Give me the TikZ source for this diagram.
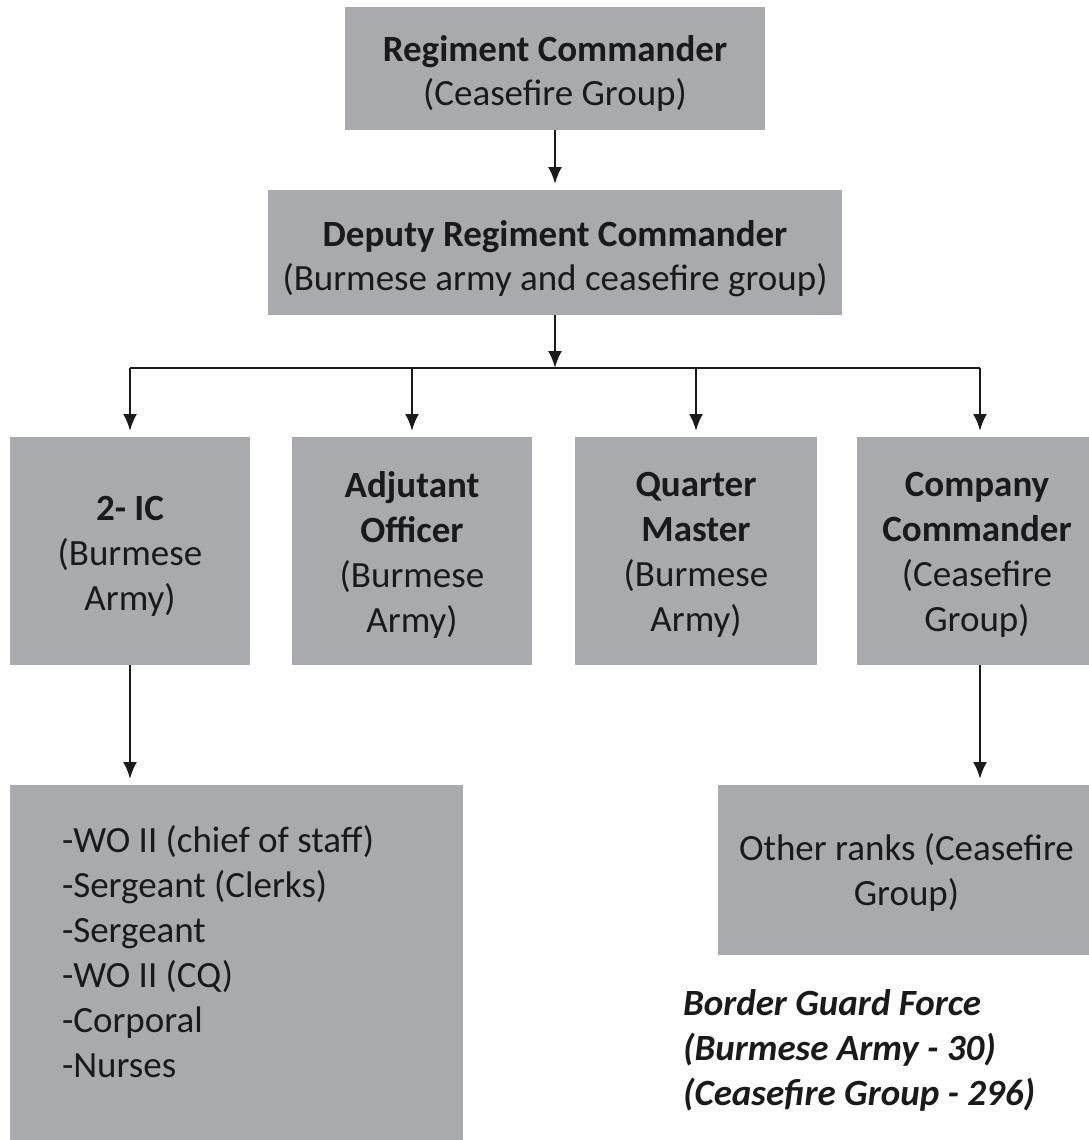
\documentclass[tikz,border=0pt]{standalone}
\usepackage{fontspec}
\setmainfont{Carlito}
\usetikzlibrary{arrows.meta}
\definecolor{boxgray}{RGB}{169,170,174}
\definecolor{ink}{RGB}{26,26,28}
\tikzset{
  box/.style={fill=boxgray, draw=none, inner sep=0pt, outer sep=0pt},
  txt/.style={inner sep=0pt, outer sep=0pt, align=center, text=ink,
    font=\fontsize{37}{45}\selectfont},
  conn/.style={line width=2.5pt, draw=ink},
  tip/.style={-{Latex[length=17pt,width=14pt]}},
  arr/.style={conn, tip, shorten >=6pt},
  plain/.style={inner sep=0pt, outer sep=0pt, align=left, text=ink}
}
\begin{document}
\begin{tikzpicture}[x=1pt,y=-1pt]
\useasboundingbox[fill=white] (0,0) rectangle (1089,1140);
% boxes
\node[box, minimum width=420pt, minimum height=123pt] (top) at (555,68.5) {};
\node[box, minimum width=574pt, minimum height=125pt] (dep) at (555,252.5) {};
\node[box, minimum width=240pt, minimum height=228pt] (b1) at (130,551) {};
\node[box, minimum width=240pt, minimum height=228pt] (b2) at (412,551) {};
\node[box, minimum width=242pt, minimum height=228pt] (b3) at (696,551) {};
\node[box, minimum width=232pt, minimum height=228pt] (b4) at (973,551) {};
\node[box, minimum width=453pt, minimum height=355pt] (b5) at (236.5,962.5) {};
\node[box, minimum width=371pt, minimum height=170pt] (b6) at (903.5,870) {};
% texts
\node[txt, font=\fontsize{37}{44}\selectfont] (topt) at ([yshift=-5pt]top.center)
  {\textbf{Regiment Commander}\\(Ceasefire Group)};
\node[txt, font=\fontsize{37}{44.5}\selectfont] (dept) at ([yshift=-6pt]dep.center)
  {\textbf{Deputy Regiment Commander}\\(Burmese army and ceasefire group)};
\node[txt] (b1t) at ([yshift=-5pt]b1.center) {\textbf{2- IC}\\(Burmese\\Army)};
\node[txt] (b2t) at ([yshift=-4pt]b2.center) {\textbf{Adjutant}\\\textbf{Officer}\\(Burmese\\Army)};
\node[txt] (b3t) at ([yshift=-4pt]b3.center) {\textbf{Quarter}\\\textbf{Master}\\(Burmese\\Army)};
\node[txt] (b4t) at ([yshift=-4pt,xshift=4pt]b4.center) {\textbf{Company}\\\textbf{Commander}\\(Ceasefire\\Group)};
\node[txt] (b6t) at ([yshift=-2pt,xshift=3pt]b6.center) {Other ranks (Ceasefire\\Group)};
\node[plain, anchor=north west, font=\fontsize{37}{45}\selectfont] (list) at (62,825)
  {-WO II (chief of staff)\\-Sergeant (Clerks)\\-Sergeant\\-WO II (CQ)\\-Corporal\\-Nurses};
\node[plain, anchor=north west, font=\fontsize{37}{45}\selectfont\bfseries\itshape] (bgf) at (683,990)
  {Border Guard Force\\(Burmese Army - 30)\\(Ceasefire Group - 296)};
% connectors
\coordinate (bus) at (555,368);
\draw[arr] (top.south) -- (dep.north);
\draw[conn, tip] (dep.south) -- (bus);
\draw[conn] (b1.north |- bus) -- ([xshift=7pt]b4.north |- bus);
\draw[arr] (b1.north |- bus) -- (b1.north);
\draw[arr] (b2.north |- bus) -- (b2.north);
\draw[arr] (b3.north |- bus) -- (b3.north);
\draw[arr] ([xshift=7pt]b4.north |- bus) -- ([xshift=7pt]b4.north);
\draw[arr] (b1.south) -- (b1.south |- b5.north);
\draw[arr] ([xshift=7pt]b4.south) -- ([xshift=7pt]b4.south |- b6.north);
\end{tikzpicture}
\end{document}
